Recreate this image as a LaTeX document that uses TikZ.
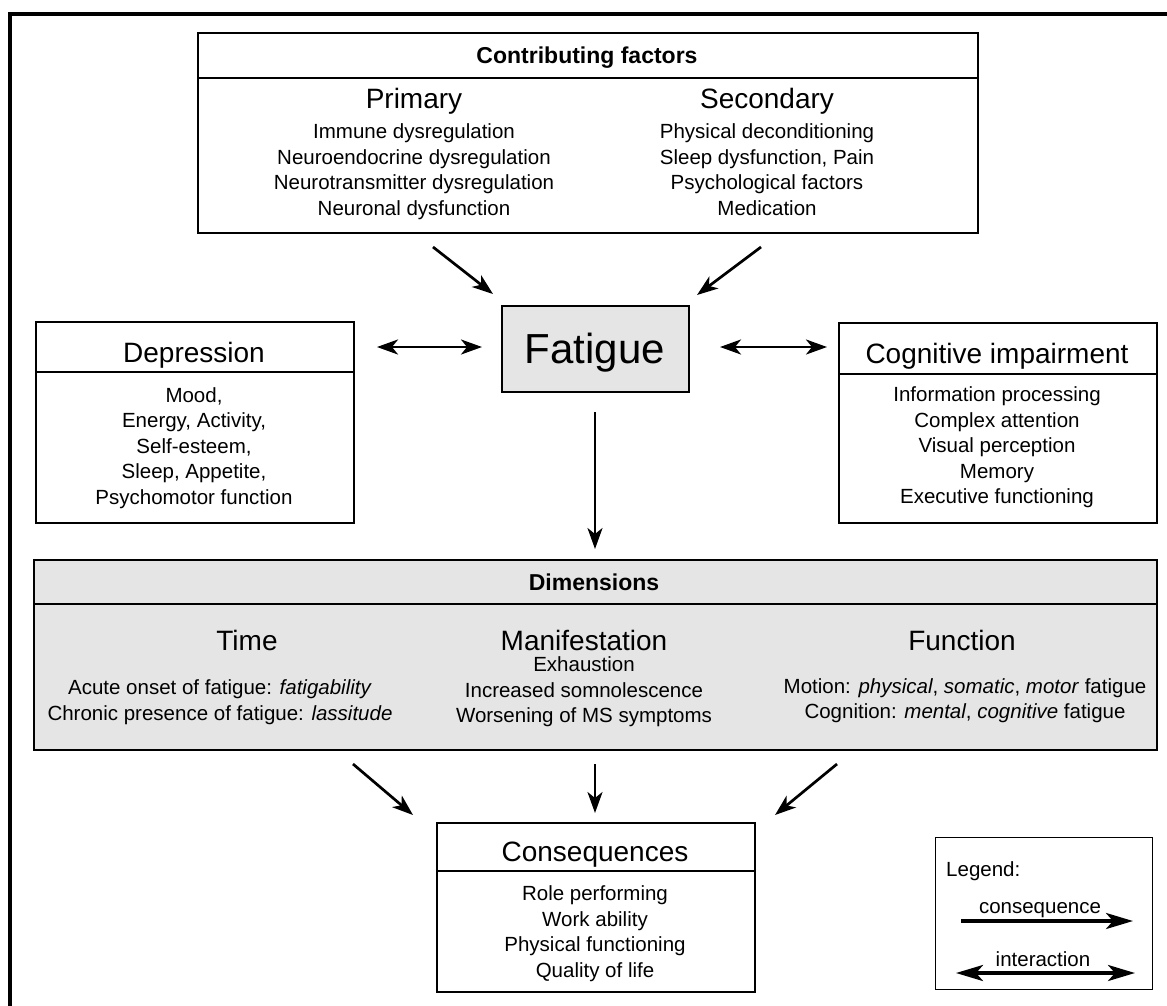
\documentclass[tikz,border=0pt]{standalone}
\usepackage{fontspec}
\setmainfont{Liberation Sans}
\usetikzlibrary{arrows.meta}
\definecolor{boxgray}{HTML}{E5E5E5}
\newcommand\fbody{\fontsize{20.5pt}{25pt}\selectfont}
\newcommand\fhead{\fontsize{28pt}{33pt}\selectfont}
\newcommand\fttl{\fontsize{23pt}{28pt}\selectfont\bfseries}
\newcommand\fbig{\fontsize{42pt}{48pt}\selectfont}
\tikzset{
  box/.style={draw, line width=1.6pt, rectangle, inner sep=0pt, anchor=north west},
  graybox/.style={box, fill=boxgray},
  divider/.style={line width=1.6pt},
  txt/.style={anchor=base, inner sep=0pt, font=\fbody},
  head/.style={anchor=base, inner sep=0pt, font=\fhead},
  ttl/.style={anchor=base, inner sep=0pt, font=\fttl},
  tip/.tip={Stealth[length=21pt,width=15pt,inset=6pt]},
  arr/.style={line width=2.7pt, -tip},
  darr/.style={line width=2.7pt, tip-tip},
  legarr/.style={line width=3.6pt, -{Stealth[length=27pt,width=16pt,inset=7pt]}},
  legdarr/.style={line width=3.6pt, {Stealth[length=27pt,width=16pt,inset=7pt]}-{Stealth[length=27pt,width=16pt,inset=7pt]}},
}
\begin{document}
\begin{tikzpicture}[x=1pt,y=-1pt]
\useasboundingbox (0,0) rectangle (1167,1005);
% outer frame (top and left only)
\draw[line width=3.4pt] (10,1006) -- (10,14) -- (1168,14);

% ---------- Contributing factors ----------
\node[box, minimum width=780pt, minimum height=200pt] (contrib) at (197,32) {};
\draw[divider] ([yshift=-46pt]contrib.north west) -- ([yshift=-46pt]contrib.north east);
\node[ttl] (contribT) at (587,63) {Contributing factors};
\node[head] (prim) at (414,108) {Primary};
\node[head] (sec) at (767,108) {Secondary};
\node[txt] (p1) at (414,138.5) {Immune dysregulation};
\node[txt] (p2) at (414,164) {Neuroendocrine dysregulation};
\node[txt] (p3) at (414,189.5) {Neurotransmitter dysregulation};
\node[txt] (p4) at (414,215) {Neuronal dysfunction};
\node[txt] (s1) at (767,138.5) {Physical deconditioning};
\node[txt] (s2) at (767,164) {Sleep dysfunction, Pain};
\node[txt] (s3) at (767,189.5) {Psychological factors};
\node[txt] (s4) at (767,215) {Medication};

% ---------- Fatigue ----------
\node[graybox, minimum width=187pt, minimum height=86pt] (fat) at (501,305) {};
\node[anchor=base, inner sep=0pt, font=\fbig] (fatT) at (595,363) {Fatigue};

% ---------- Depression ----------
\node[box, minimum width=318pt, minimum height=201pt] (dep) at (35,321) {};
\draw[divider] ([yshift=-51pt]dep.north west) -- ([yshift=-51pt]dep.north east);
\node[head] (depT) at (194,362) {Depression};
\node[txt] (d1) at (194,402) {Mood,};
\node[txt] (d2) at (194,427.5) {Energy, Activity,};
\node[txt] (d3) at (194,453) {Self-esteem,};
\node[txt] (d4) at (194,478.5) {Sleep, Appetite,};
\node[txt] (d5) at (194,504) {Psychomotor function};

% ---------- Cognitive impairment ----------
\node[box, minimum width=318pt, minimum height=200pt] (cog) at (838,322) {};
\draw[divider] ([yshift=-52pt]cog.north west) -- ([yshift=-52pt]cog.north east);
\node[head] (cogT) at (997,363) {Cognitive impairment};
\node[txt] (c1) at (997,401.5) {Information processing};
\node[txt] (c2) at (997,427) {Complex attention};
\node[txt] (c3) at (997,452.5) {Visual perception};
\node[txt] (c4) at (997,478) {Memory};
\node[txt] (c5) at (997,503.5) {Executive functioning};

% ---------- Dimensions ----------
\node[graybox, minimum width=1123pt, minimum height=190pt] (dim) at (33,559) {};
\draw[divider] ([yshift=-45pt]dim.north west) -- ([yshift=-45pt]dim.north east);
\node[ttl] (dimT) at (594,590) {Dimensions};
\node[head] (timeT) at (247,650) {Time};
\node[head] (manT) at (584,650) {Manifestation};
\node[head] (funT) at (962,650) {Function};
\node[txt] (t1) at (220,694.5) {Acute onset of fatigue: \textit{fatigability}};
\node[txt] (t2) at (220,720) {Chronic presence of fatigue: \textit{lassitude}};
\node[txt] (m1) at (584,671.5) {Exhaustion};
\node[txt] (m2) at (584,697) {Increased somnolescence};
\node[txt] (m3) at (584,722.5) {Worsening of MS symptoms};
\node[txt] (f1) at (965,693) {Motion: \textit{physical}, \textit{somatic}, \textit{motor} fatigue};
\node[txt] (f2) at (965,718.5) {Cognition: \textit{mental}, \textit{cognitive} fatigue};

% ---------- Consequences ----------
\node[box, minimum width=318pt, minimum height=169pt] (cons) at (436,822) {};
\draw[divider] ([yshift=-49pt]cons.north west) -- ([yshift=-49pt]cons.north east);
\node[head] (consT) at (595,861) {Consequences};
\node[txt] (q1) at (595,900.5) {Role performing};
\node[txt] (q2) at (595,926) {Work ability};
\node[txt] (q3) at (595,951.5) {Physical functioning};
\node[txt] (q4) at (595,977) {Quality of life};

% ---------- Legend ----------
\node[box, line width=1.4pt, minimum width=217pt, minimum height=152pt] (leg) at (935,837) {};
\node[txt, anchor=base west] (legT) at (946,876) {Legend:};
\node[txt] (legC) at (1040,913) {consequence};
\node[txt] (legI) at (1043,966) {interaction};
\coordinate (lc1) at (961,921);
\coordinate (lc2) at (1133,921);
\coordinate (li1) at (956,973);
\coordinate (li2) at (1135,973);
\draw[legarr] (lc1) -- (lc2);
\draw[legdarr] (li1) -- (li2);

% ---------- connectors ----------
\coordinate (a1s) at (433,247); \coordinate (a1e) at (493,294);
\coordinate (a2s) at (761,247); \coordinate (a2e) at (697,295);
\coordinate (h1s) at (377,347); \coordinate (h1e) at (482,347);
\coordinate (h2s) at (720,347); \coordinate (h2e) at (827,347);
\coordinate (vs) at (595,412);  \coordinate (ve) at (595,549);
\coordinate (b1s) at (353,764); \coordinate (b1e) at (413,815);
\coordinate (b2s) at (595,764); \coordinate (b2e) at (595,813);
\coordinate (b3s) at (837,764); \coordinate (b3e) at (775,815);
\draw[arr] (a1s) -- (a1e);
\draw[arr] (a2s) -- (a2e);
\draw[darr] (h1s) -- (h1e);
\draw[darr] (h2s) -- (h2e);
\draw[arr] (vs) -- (ve);
\draw[arr] (b1s) -- (b1e);
\draw[arr] (b2s) -- (b2e);
\draw[arr] (b3s) -- (b3e);
\end{tikzpicture}
\end{document}
